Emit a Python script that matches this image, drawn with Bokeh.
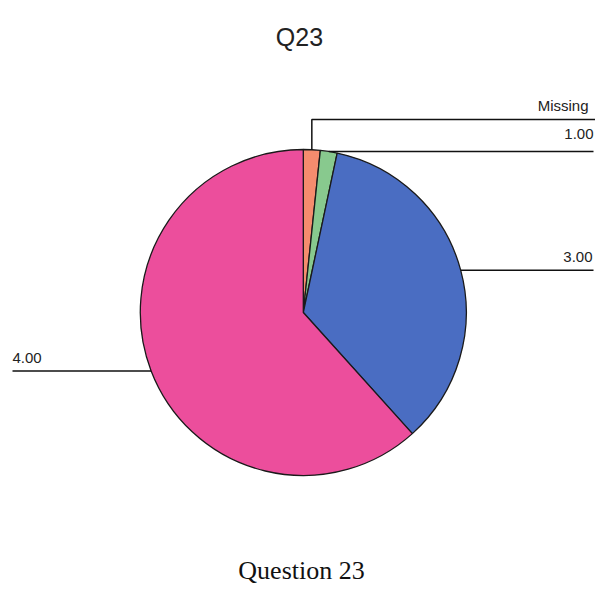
import math
from bokeh.plotting import figure
from bokeh.models import Range1d, ColumnDataSource
from bokeh.core.properties import value
from bokeh.embed import file_html
from bokeh.resources import INLINE

# Responses to question 23 (counts per answer category)
categories = ["Missing", "1.00", "3.00", "4.00"]
counts = [1, 1, 21, 37]
colors = ["#F58C6E", "#88C98E", "#4A6DC2", "#EC4E9C"]

W, H = 595, 590
cx, cy, r = 302.8, H - 312.0, 163.0

p = figure(width=W, height=H, x_range=Range1d(0, W), y_range=Range1d(0, H),
           output_backend="svg", toolbar_location=None, min_border=0)
p.axis.visible = False
p.grid.visible = False
p.outline_line_color = None
p.background_fill_color = "white"
p.border_fill_color = "white"

total = sum(counts)
starts, ends, mids = [], [], []
acc = 0.0
for c in counts:
    a0 = acc / total * 2 * math.pi
    acc += c
    a1 = acc / total * 2 * math.pi
    # slices run clockwise from twelve o'clock
    starts.append(math.pi / 2 - a0)
    ends.append(math.pi / 2 - a1)
    mids.append((a0 + a1) / 2)

src = ColumnDataSource(dict(start=starts, end=ends, color=colors))
p.wedge(x=cx, y=cy, radius=r, start_angle="start", end_angle="end",
        direction="clock", fill_color="color", line_color="#1a1a1a",
        line_width=1.3, source=src)

# leader lines from each slice's mid-point on the rim
edge = [(cx + r * math.sin(m), cy + r * math.cos(m)) for m in mids]
lw = 1.5
lc = "#111111"
# Missing: up, then right
ex, ey = edge[0]
p.line([ex, ex, W], [ey, H - 119, H - 119], line_color=lc, line_width=lw)
# 1.00 and 3.00: straight to the right
for i in (1, 2):
    ex, ey = edge[i]
    p.line([ex, W - 2], [ey, ey], line_color=lc, line_width=lw)
# 4.00: straight to the left
ex, ey = edge[3]
p.line([ex, 12], [ey, ey], line_color=lc, line_width=lw)

lab_font = value("Liberation Sans")
lab_kw = dict(text_baseline="alphabetic", text_font=lab_font,
              text_font_size="15px", text_color="#222222")
p.text(x=[588], y=[H - 105], text=["Missing"], text_align="right", **lab_kw)
p.text(x=[593], y=[H - 133], text=["1.00"], text_align="right", **lab_kw)
p.text(x=[592], y=[H - 256], text=["3.00"], text_align="right", **lab_kw)
p.text(x=[12], y=[H - 357], text=["4.00"], text_align="left", **lab_kw)

# title and caption
p.text(x=[299], y=[H - 36], text=["Q23"], text_align="center",
       text_baseline="alphabetic", text_font=lab_font, text_font_size="25px",
       text_color="#222222")
p.text(x=[301], y=[H - 570], text=["Question 23"], text_align="center",
       text_baseline="alphabetic", text_font=value("Liberation Serif"),
       text_font_size="26px", text_color="#111111")

open("out.html", "w").write(file_html(p, INLINE))
